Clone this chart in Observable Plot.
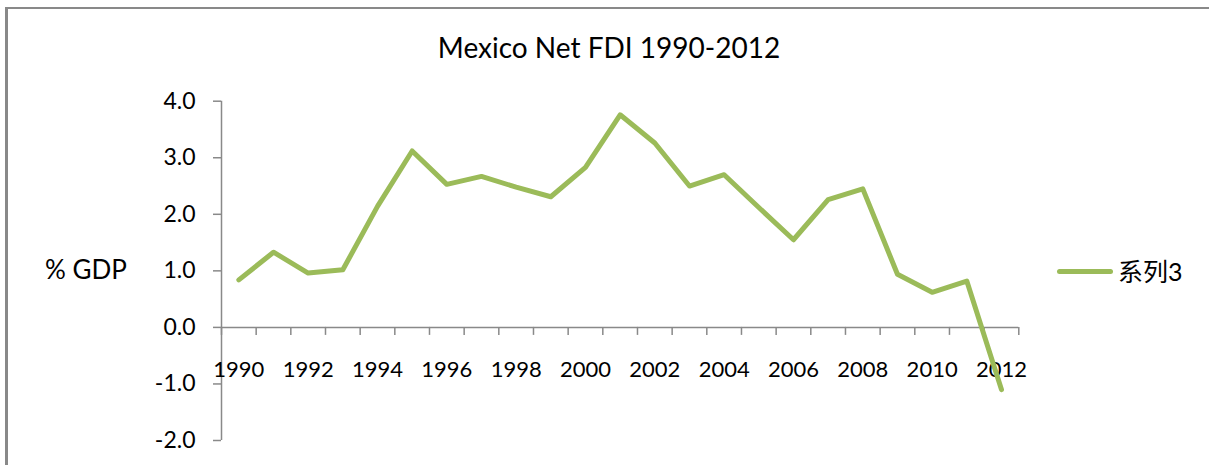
<!DOCTYPE html>
<html>
<head>
<meta charset="utf-8">
<script src="https://cdn.jsdelivr.net/npm/d3@7"></script>
<script src="https://cdn.jsdelivr.net/npm/@observablehq/plot@0.6"></script>
<style>
  body { margin: 0; background: #fff; }
  #wrap { position: relative; width: 1209px; height: 465px; overflow: hidden; font-family: Lato, "Noto Sans CJK SC", sans-serif; background: #fff; }
  #frame { position: absolute; left: 5px; top: 7px; width: 1300px; height: 600px; border-top: 2px solid #898989; border-left: 3px solid #898989; }
  #chart { position: absolute; left: 0; top: 0; }
  #title { position: absolute; left: 0; width: 1218px; top: 33px; text-align: center; font-size: 28px; line-height: 28px; color: #000; white-space: nowrap; }
  #ylabel { position: absolute; left: 45px; top: 256px; font-size: 26px; line-height: 26px; color: #000; white-space: nowrap; }
  #legend { position: absolute; left: 1057px; top: 257px; height: 28px; display: flex; align-items: center; white-space: nowrap; }
  #legend .swatch { width: 56px; height: 5px; border-radius: 3px; margin-right: 5px; }
  #legend .label { font-size: 25px; line-height: 28px; color: #000; font-family: Lato, "Noto Sans CJK SC", sans-serif; }
</style>
</head>
<body>
<div id="wrap">
  <div id="chart"></div>
  <div id="frame"></div>
  <div id="title"></div>
  <div id="ylabel"></div>
  <div id="legend"><div class="swatch"></div><div class="label"></div></div>
</div>
<script>
// ---- data ----
const titleText = "Mexico Net FDI 1990-2012";
const yAxisLabel = "% GDP";
const seriesName = "系列3";
const seriesColor = "#9BBB59";
const years = [1990, 1991, 1992, 1993, 1994, 1995, 1996, 1997, 1998, 1999, 2000, 2001,
               2002, 2003, 2004, 2005, 2006, 2007, 2008, 2009, 2010, 2011, 2012];
const fdi = [0.84, 1.33, 0.96, 1.02, 2.14, 3.12, 2.53, 2.67, 2.48, 2.31, 2.83, 3.76,
             3.26, 2.50, 2.70, 2.12, 1.55, 2.26, 2.45, 0.94, 0.62, 0.82, -1.10];
const yTicks = [-2, -1, 0, 1, 2, 3, 4];
const xTickLabels = [1990, 1992, 1994, 1996, 1998, 2000, 2002, 2004, 2006, 2008, 2010, 2012];

// ---- derived ----
const data = years.map((year, i) => ({year, value: fdi[i]}));
const boundaries = [...years.map(y => y - 0.5), years[years.length - 1] + 0.5];
const axisGray = "#898989";

document.getElementById("title").textContent = titleText;
document.getElementById("ylabel").textContent = yAxisLabel;
document.querySelector("#legend .label").textContent = seriesName;
document.querySelector("#legend .swatch").style.background = seriesColor;

const chart = Plot.plot({
  width: 1209,
  height: 465,
  marginLeft: 221,
  marginRight: 190.7,
  marginTop: 100.7,
  marginBottom: 25,
  style: {fontFamily: "Lato, sans-serif", background: "transparent", color: "#000"},
  x: {domain: [boundaries[0], boundaries[boundaries.length - 1]], axis: null},
  y: {domain: [yTicks[0], yTicks[yTicks.length - 1]], axis: null},
  marks: [
    Plot.ruleX([boundaries[0]], {stroke: axisGray, strokeWidth: 1.5}),
    Plot.axisY(yTicks, {
      tickSize: 8, tickPadding: 18, stroke: axisGray, strokeWidth: 1.5, fill: "#000",
      fontSize: 23, tickFormat: d => d.toFixed(1), label: null
    }),
    Plot.ruleY([0], {stroke: axisGray, strokeWidth: 1.5}),
    Plot.ruleX(boundaries, {x: d => d, y1: 0, y2: 0, insetBottom: -8, stroke: axisGray, strokeWidth: 1.5}),
    Plot.text(xTickLabels, {x: d => d, y: 0, dy: 43, text: d => String(d), fontSize: 22, fill: "#000"}),
    Plot.line(data, {x: "year", y: "value", stroke: seriesColor, strokeWidth: 5,
                     strokeLinejoin: "round", strokeLinecap: "round"})
  ]
});
document.getElementById("chart").appendChild(chart);
</script>
</body>
</html>
